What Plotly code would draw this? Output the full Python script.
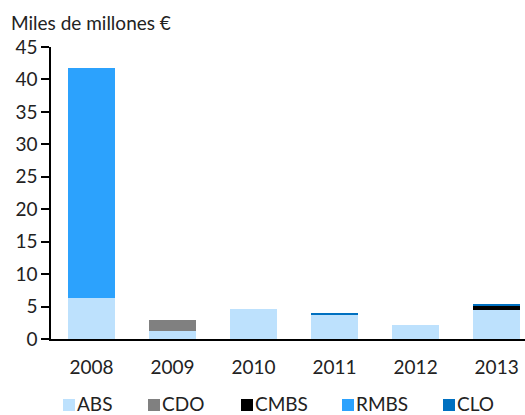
import plotly.graph_objects as go

years = ["2008", "2009", "2010", "2011", "2012", "2013"]
abs_vals = [6.3, 1.2, 4.7, 3.8, 2.15, 4.5]
cdo_vals = [0, 1.7, 0, 0, 0, 0]
cmbs_vals = [0, 0, 0, 0, 0, 0.65]
rmbs_vals = [35.5, 0, 0, 0, 0, 0]
clo_vals = [0, 0, 0, 0.15, 0, 0.25]

series = [
    ("ABS", abs_vals, "#BDE1FD"),
    ("CDO", cdo_vals, "#808080"),
    ("CMBS", cmbs_vals, "#000000"),
    ("RMBS", rmbs_vals, "#2CA2FD"),
    ("CLO", clo_vals, "#0070C0"),
]

FONT = "Lato"
TXT = "#222222"
FS = 19
W, H = 525, 415
ML, MR, MT, MB = 51, 0, 47, 76
PW, PH = W - ML - MR, H - MT - MB


def px_x(px):
    return (px - ML) / PW


def px_y(py):
    return (H - MB - py) / PH


fig = go.Figure()
for name, vals, color in series:
    fig.add_trace(go.Bar(
        x=years, y=vals, name=name,
        marker=dict(color=color, line=dict(width=0)),
        width=0.58, showlegend=False,
    ))

# legend row: coloured square followed by its label
legend_x = [63, 148, 241, 342, 443]
legend_y = 403
shapes = []
annotations = []
for (name, _, color), lx in zip(series, legend_x):
    shapes.append(dict(
        type="rect", xref="paper", yref="paper",
        x0=px_x(lx), x1=px_x(lx + 12),
        y0=px_y(legend_y + 8), y1=px_y(legend_y - 4),
        fillcolor=color, line=dict(width=0),
    ))
    annotations.append(dict(
        text=name, xref="paper", yref="paper",
        x=px_x(lx + 13), y=px_y(legend_y),
        xanchor="left", yanchor="middle", showarrow=False,
        borderpad=0,
        font=dict(family=FONT, size=FS, color=TXT),
    ))

annotations.append(dict(
    text="Miles de millones €", xref="paper", yref="paper",
    x=px_x(9), y=1.0, xanchor="left", yanchor="bottom", yshift=11,
    showarrow=False, font=dict(family=FONT, size=FS, color=TXT),
))

fig.update_layout(
    barmode="stack",
    width=W, height=H,
    margin=dict(l=ML, r=MR, t=MT, b=MB),
    paper_bgcolor="white", plot_bgcolor="white",
    font=dict(family=FONT, size=FS, color=TXT),
    showlegend=False,
    xaxis=dict(
        type="category", range=[-0.5, 5.35],
        showline=True, linecolor="#000000", linewidth=1.5,
        ticks="", showgrid=False, zeroline=False,
        tickfont=dict(family=FONT, size=FS, color=TXT),
        ticklabelstandoff=10,
    ),
    yaxis=dict(
        range=[0, 45], tickvals=list(range(0, 50, 5)),
        showline=True, linecolor="#000000", linewidth=1.5,
        ticks="outside", ticklen=8, tickwidth=1.5, tickcolor="#000000",
        showgrid=False, zeroline=False,
        tickfont=dict(family=FONT, size=FS, color=TXT),
    ),
    shapes=shapes,
    annotations=annotations,
)

fig.write_html("out.html")
